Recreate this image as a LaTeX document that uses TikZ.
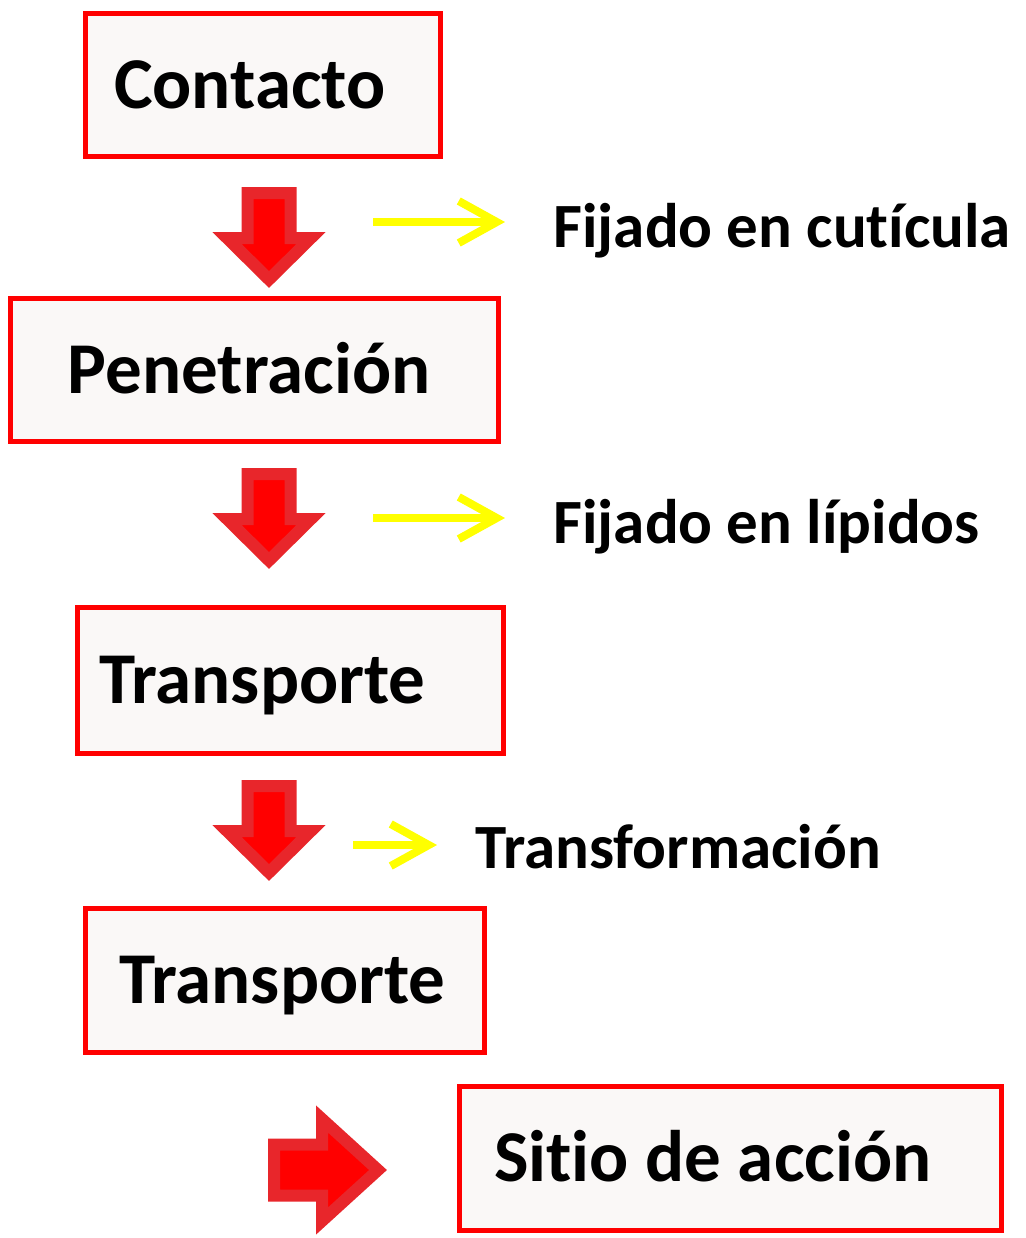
\documentclass[tikz,border=0pt]{standalone}
\usepackage{fontspec}
\setmainfont{Carlito}[Ligatures=NoCommon]
\usetikzlibrary{arrows.meta}
\definecolor{fondocaja}{RGB}{250,248,247}
\definecolor{rojoborde}{RGB}{232,38,43}
\definecolor{amarillo}{RGB}{255,255,0}
\tikzset{
  caja/.style={draw=red, fill=fondocaja, line width=2.5pt, anchor=north west, align=flush left,
    text height=23pt, text depth=0pt, font=\fontsize{36.5}{40}\selectfont\bfseries},
  etiqueta/.style={anchor=base west, inner sep=0pt, font=\fontsize{31.5}{36}\selectfont\bfseries},
  amarilla/.style={draw=amarillo, line width=4pt, -{Straight Barb[length=19pt 0, width=21pt 0]}},
  flecharoja/.style={draw=rojoborde, fill=red, line width=6pt, line join=miter},
  bajada/.pic={\path[flecharoja] (-21.5,6) -- (21.5,6) -- (21.5,51) -- (42,51) -- (0,92.5) -- (-42,51) -- (-21.5,51) -- cycle;},
  avance/.pic={\path[flecharoja] (6,-25.5) -- (54,-25.5) -- (54,-51) -- (110,0) -- (54,51) -- (54,25.5) -- (6,25.5) -- cycle;}
}
\begin{document}
\begin{tikzpicture}[x=0.5pt, y=-0.5pt]
  \useasboundingbox[fill=white] (0,0) rectangle (1025,1238);

  % cajas
  \node[caja, minimum width=177.5pt, minimum height=71.5pt, inner xsep=14.25pt, text width=149pt] (contacto) at (83,11) {Contacto};
  \node[caja, minimum width=244pt, minimum height=71.5pt, inner xsep=28.75pt, text width=186.5pt] (penetracion) at (8,296) {Penetración};
  \node[caja, minimum width=213pt, minimum height=73pt, inner xsep=10.75pt, text width=191.5pt] (transporte1) at (75,605) {Transporte};
  \node[caja, minimum width=199.5pt, minimum height=72pt, inner xsep=16.75pt, text width=166pt] (transporte2) at (83,906) {Transporte};
  \node[caja, minimum width=271pt, minimum height=72pt, inner xsep=17.25pt, text width=236.5pt] (sitio) at (457,1084) {Sitio de acción};

  % flechas rojas
  \pic at (269,187) {bajada};
  \pic at (269,468) {bajada};
  \pic at (269,780) {bajada};
  \pic at (268,1170) {avance};

  % etiquetas laterales
  \node[etiqueta] (cuticula) at (553,247) {Fijado en cutícula};
  \node[etiqueta] (lipidos) at (553,543) {Fijado en lípidos};
  \node[etiqueta] (transformacion) at (475,868) {Transformación};

  \coordinate (y1) at (373,222);
  \coordinate (y2) at (373,518);
  \coordinate (y3) at (353,845);
  \draw[amarilla, shorten >=24pt] (y1) -- (y1 -| cuticula.west);
  \draw[amarilla, shorten >=24pt] (y2) -- (y2 -| lipidos.west);
  \draw[amarilla, shorten >=19pt] (y3) -- (y3 -| transformacion.west);

\end{tikzpicture}
\end{document}
